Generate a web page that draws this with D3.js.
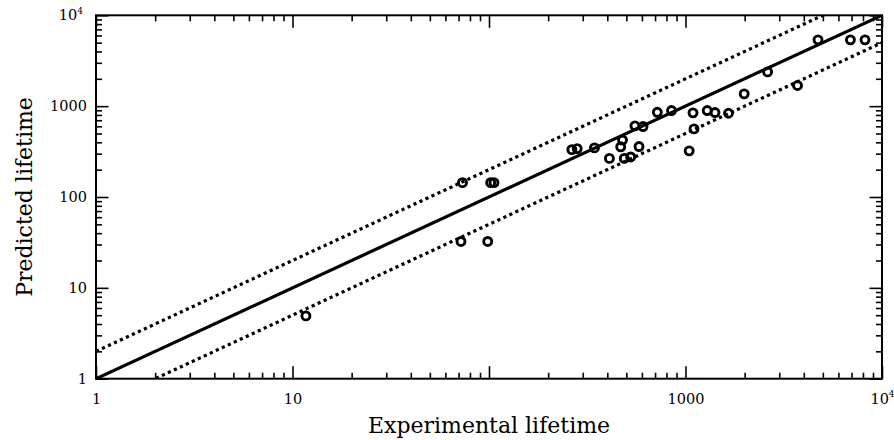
<!DOCTYPE html>
<html>
<head>
<meta charset="utf-8">
<script src="https://cdn.jsdelivr.net/npm/d3@7"></script>
<style>
  html, body { margin: 0; padding: 0; background: #fff; }
  svg { display: block; }
  text { font-family: "DejaVu Serif", serif; fill: #000; }
</style>
</head>
<body>
<svg id="chart" width="894" height="440"></svg>
<script>
// ---- data ----
const experimental = [11.7, 73.3, 72.0, 102, 106, 98.5, 264, 281, 344, 410, 468, 478, 488, 526, 553, 580, 608, 719, 849, 1044, 1092, 1105, 1290, 1413, 1655, 1989, 2617, 3716, 4724, 6907, 8194];
const predicted    = [4.91, 143.8, 32.4, 143.8, 143.8, 32.4, 332, 341, 347, 266, 357, 423, 266, 276, 607, 359, 596, 856, 894, 322, 844, 562, 894, 850, 835, 1366, 2383, 1687, 5370, 5370, 5370];
const xTickLabels = [1, 10, 1000, 10000];
const yTickLabels = [1, 10, 100, 1000, 10000];
const majorTicks = [1, 10, 100, 1000, 10000];
const lineFactors = [1, 2, 0.5];   // predicted = factor * experimental

const margin = {left: 96, right: 12, top: 15.3, bottom: 61.3};
const W = 894, H = 440;
const x0 = margin.left, x1 = W - margin.right, y0 = H - margin.bottom, y1 = margin.top;

const x = d3.scaleLog().domain([1, 10000]).range([x0, x1]);
const y = d3.scaleLog().domain([1, 10000]).range([y0, y1]);

const minorTicks = [];
for (let d = 1; d < 10000; d *= 10) for (let k = 2; k <= 9; k++) minorTicks.push(d * k);

const svg = d3.select("#chart");

svg.append("clipPath").attr("id", "clip").append("rect")
  .attr("x", x0).attr("y", y1).attr("width", x1 - x0).attr("height", y0 - y1);

// ---- reference lines ----
const gLines = svg.append("g").attr("clip-path", "url(#clip)");
lineFactors.forEach(f => {
  const pts = [1, 10000].map(v => [x(v), y(v * f)]);
  gLines.append("path")
    .attr("d", d3.line()(pts))
    .attr("fill", "none")
    .attr("stroke", "#000")
    .attr("stroke-width", 3.2)
    .attr("stroke-dasharray", f === 1 ? null : "3.2,3.4");
});

// ---- axes (ticks inside, on all four sides) ----
function fmt(d) { return d === 10000 ? "10" : String(d); }
function addSup(sel) {
  sel.selectAll(".tick text").each(function(d) {
    if (d === 10000) {
      d3.select(this).append("tspan").text("4")
        .attr("font-size", "9px").attr("dy", "-0.75em");
    }
  });
}
function styleAxis(g) {
  g.select(".domain").remove();
  g.selectAll(".tick line").attr("stroke", "#000").attr("stroke-width", 1.6);
  g.selectAll(".tick text").attr("font-size", "14.5px").attr("font-family", "DejaVu Serif, serif");
}

// bottom
const gB = svg.append("g").attr("transform", `translate(0,${y0})`)
  .call(d3.axisBottom(x).tickValues(majorTicks).tickSize(-12.5).tickPadding(15)
    .tickFormat(d => xTickLabels.includes(d) ? fmt(d) : ""));
styleAxis(gB); addSup(gB);
const gBm = svg.append("g").attr("transform", `translate(0,${y0})`)
  .call(d3.axisBottom(x).tickValues(minorTicks).tickSize(-6).tickFormat(""));
styleAxis(gBm);
// top
const gT = svg.append("g").attr("transform", `translate(0,${y1})`)
  .call(d3.axisTop(x).tickValues(majorTicks).tickSize(-12.5).tickFormat(""));
styleAxis(gT);
const gTm = svg.append("g").attr("transform", `translate(0,${y1})`)
  .call(d3.axisTop(x).tickValues(minorTicks).tickSize(-6).tickFormat(""));
styleAxis(gTm);
// left
const gL = svg.append("g").attr("transform", `translate(${x0},0)`)
  .call(d3.axisLeft(y).tickValues(majorTicks).tickSize(-12.5).tickPadding(9)
    .tickFormat(d => yTickLabels.includes(d) ? fmt(d) : ""));
styleAxis(gL);
gL.selectAll(".tick text").each(function(d) {
  if (d === 10000) {
    d3.select(this).text("10").attr("dx", "-4px");
    d3.select(this).append("tspan").text("4").attr("font-size", "9px").attr("dy", "-0.75em");
  }
});
const gLm = svg.append("g").attr("transform", `translate(${x0},0)`)
  .call(d3.axisLeft(y).tickValues(minorTicks).tickSize(-6).tickFormat(""));
styleAxis(gLm);
// right
const gR = svg.append("g").attr("transform", `translate(${x1},0)`)
  .call(d3.axisRight(y).tickValues(majorTicks).tickSize(-12.5).tickFormat(""));
styleAxis(gR);
const gRm = svg.append("g").attr("transform", `translate(${x1},0)`)
  .call(d3.axisRight(y).tickValues(minorTicks).tickSize(-6).tickFormat(""));
styleAxis(gRm);

// frame
svg.append("rect").attr("x", x0).attr("y", y1).attr("width", x1 - x0).attr("height", y0 - y1)
  .attr("fill", "none").attr("stroke", "#000").attr("stroke-width", 2);

// ---- points ----
svg.append("g").selectAll("circle")
  .data(experimental.map((e, i) => [e, predicted[i]]))
  .join("circle")
  .attr("cx", d => x(d[0])).attr("cy", d => y(d[1]))
  .attr("r", 4)
  .attr("fill", "none").attr("stroke", "#000").attr("stroke-width", 2.9);

// ---- titles ----
svg.append("text").attr("x", (x0 + x1) / 2 + 0).attr("y", 433)
  .attr("text-anchor", "middle").attr("font-size", "22px").text("Experimental lifetime");
svg.append("text").attr("transform", `translate(31.5,${(y0 + y1) / 2}) rotate(-90)`)
  .attr("text-anchor", "middle").attr("font-size", "22px").text("Predicted lifetime");
</script>
</body>
</html>
